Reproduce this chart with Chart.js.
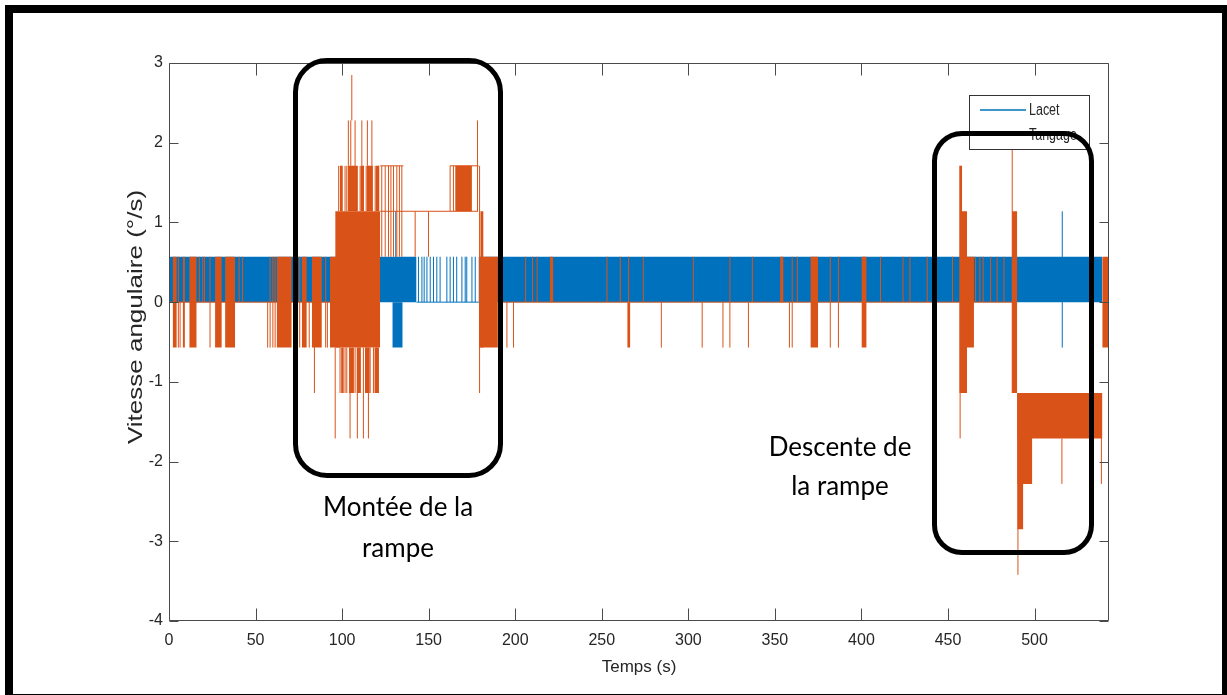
<!DOCTYPE html>
<html><head><meta charset="utf-8">
<script src="https://cdn.jsdelivr.net/npm/chart.js@4/dist/chart.umd.min.js"></script>
<style>
html,body{margin:0;padding:0;background:#fff;}
#wrap{position:relative;width:1227px;height:695px;overflow:hidden;background:#fff;}
#c{position:absolute;left:0;top:0;}
.bar{position:absolute;background:#000;}
.ring{position:absolute;border:5px solid #000;box-sizing:border-box;}
.note{position:absolute;font-family:Lato,'Open Sans',sans-serif;font-size:26px;color:#000;text-align:center;white-space:nowrap;}
</style></head><body>
<div id="wrap">
<canvas id="c" width="1227" height="695"></canvas>
<div class="bar" style="left:5px;top:5px;width:1222px;height:8px"></div>
<div class="bar" style="left:5px;top:5px;width:8px;height:690px"></div>
<div class="bar" style="left:1222px;top:5px;width:5px;height:690px"></div>
<div class="bar" style="left:5px;top:694px;width:1222px;height:1px"></div>
<div class="ring" style="left:293px;top:58px;width:210px;height:420px;border-radius:34px"></div>
<div class="ring" style="left:932px;top:131px;width:162px;height:424px;border-radius:30px"></div>
<div class="note" style="left:278px;top:486px;width:240px;line-height:41px">Montée de la<br>rampe</div>
<div class="note" style="left:720px;top:427px;width:240px;line-height:39px">Descente de<br>la rampe</div>
</div>
<script>
const xTicks = [0,50,100,150,200,250,300,350,400,450,500];
const yTicks = [-4,-3,-2,-1,0,1,2,3];
const seriesNames = ['Lacet','Tangage'];
const seriesColors = ['#0072BD','#D95319'];
const xTitle = 'Temps (s)';
const yTitle = 'Vitesse angulaire (°/s)';

// Lacet (blue): dense toggling bands [t0, t1, low, high]
const lacetBands = [
  [0,143,0,0.57],
  [129,135,-0.57,0],
  [178.8,539.2,0,0.57]
];
// Lacet: isolated strokes [t, low, high]
const lacetStrokes = [
  [131,0,1.14],
  [144.1,0,0.57],[146.1,0,0.57],[147.4,0,0.57],[149,0,0.57],[150.9,0,0.57],[152.8,0,0.57],
  [154.7,0,0.57],[156.6,0,0.57],[160.5,0,0.57],[162.4,0,0.57],[164.3,0,0.57],[166.2,0,0.57],
  [169.2,0,0.57],[171.1,0,0.57],[172,0,0.57],[175,0,0.57],[176.9,0,0.57],
  [516,-0.57,1.14]
];
// Lacet: level lines [t0, t1, value]
const lacetLevels = [[143,179,0]];

// Tangage (orange): dense toggling bands [t0, t1, low, high]
const tangageBands = [
  [2.1,4.5,-0.57,0.57],[7.9,9.2,-0.57,0.57],[11.7,16,-0.57,0.57],
  [26.6,30.5,-0.57,0.57],[32.4,38.2,-0.57,0.57],[62.2,70.9,-0.57,0.57],
  [76.7,79.6,-0.57,0.57],[82.5,88.3,-0.57,0.57],[93,98.8,-0.57,0.57],
  [96,122,-0.57,1.14],
  [98.6,100.4,1.14,1.71],[103.2,108.6,1.14,1.71],[110.6,112.6,1.14,1.71],[114.2,117.8,1.14,1.71],[119.4,121.6,1.14,1.71],
  [99.6,101,-1.14,-0.57],[104,106.8,-1.14,-0.57],[108.4,110.8,-1.14,-0.57],[113.2,116,-1.14,-0.57],[118.6,120.8,-1.14,-0.57],
  [165.3,175,1.14,1.71],
  [179.8,181.7,-0.57,1.14],[179,190,-0.57,0.57],
  [220,222,0,0.57],[264.7,266.5,-0.57,0],[353,355,0,0.57],
  [370.5,375,-0.57,0.57],[400,403,-0.57,0.57],
  [456.5,458.2,-1.14,1.71],[457.5,461,-1.14,1.14],[458.2,465,-0.57,0.57],
  [487,490,-1.14,1.14],
  [490,493.5,-2.85,-1.14],[490,498.7,-2.28,-1.14],[490,539.2,-1.71,-1.14],
  [539.1,543,-0.57,0.57]
];
// Tangage: isolated strokes [t, low, high]
const tangageStrokes = [
  [5.4,-0.57,0.57],[6.4,-0.57,0],[17.5,0,0.57],[19.5,0,0.57],[20.5,0,0.57],[23.7,-0.57,0.57],
  [40.5,0,0.57],[42.5,0,0.57],[57,-0.57,0],[58.4,-0.57,0.57],[60,-0.57,0.57],[61.3,-0.57,0.57],
  [73.5,-0.57,0.57],[75.5,-0.57,0.57],[81,-0.57,0],[84,-1.14,0],[90.5,-0.57,0.57],[91.5,-0.57,0],
  [96,-1.71,-0.57],[98.8,-1.14,-0.57],[99.8,-1.14,-0.57],[101.7,-1.14,-0.57],[102.7,-1.14,-0.57],
  [104.6,-1.71,-0.57],[106.2,-1.14,-0.57],[107.5,-1.14,-0.57],[108.8,-1.71,-0.57],[110.4,-1.14,-0.57],
  [112.3,-1.71,-0.57],[113.9,-1.14,-0.57],[115.2,-1.71,-0.57],[116.2,-1.14,-0.57],[118.1,-1.14,-0.57],
  [120,-1.14,-0.57],[121,-1.14,-0.57],
  [98,1.14,1.71],[99.8,1.14,1.71],[101.7,1.14,1.71],[102.7,1.14,1.71],[104.6,1.14,1.71],[106.2,1.14,1.71],
  [107.5,1.14,1.71],[108.8,1.14,1.71],[110.4,1.14,1.71],[112.3,1.14,1.71],[113.9,1.14,1.71],
  [115.2,1.14,1.71],[117.2,1.14,1.71],[119.1,1.14,1.71],[121,1.14,1.71],
  [103.6,1.71,2.28],[105,1.71,2.28],[107.5,1.71,2.28],[111.4,1.71,2.28],[114.6,1.71,2.28],[117.2,1.71,2.28],
  [105.6,2.28,2.85],
  [122.9,0.57,1.71],[124.9,0.57,1.71],[126.8,0.57,1.71],[128.2,0.57,1.71],[129.7,0.57,1.71],
  [131.6,0.57,1.71],[133.1,0.57,1.71],[134.5,0.57,1.71],
  [142.2,0.57,1.14],[149.9,0.57,1.14],[162.4,1.14,1.71],[164.3,1.14,1.71],
  [178.2,1.14,2.28],[179.4,-1.14,1.71],
  [195.2,-0.57,0],[199,-0.57,0],
  [206,0,0.57],[210,0,0.57],[212.7,0,0.57],[253,0,0.57],[260.7,0,0.57],[265.5,0,0.57],[274,0,0.57],
  [284.4,-0.57,0],[302.9,0,0.57],[308,-0.57,0],[320,-0.57,0],[324,-0.57,0.57],[334.7,-0.57,0],
  [337,0,0.57],[358.4,-0.57,0],[360,-0.57,0.57],[363,0,0.57],[382,-0.57,0.57],[386.7,-0.57,0.57],
  [411,0,0.57],[424,0,0.57],[428,0,0.57],[438,0,0.57],[452.6,0,0.57],
  [457,-1.71,1.71],
  [465.9,0,0.57],[468.4,0,0.57],[470.3,0,0.57],[474.6,0,0.57],[478.4,0,0.57],[482.3,0,0.57],
  [487.1,-1.14,2.28],[490.4,-3.42,-1.14],[515.8,-2.28,-1.71],[538.6,-2.28,-1.14]
];
// Tangage: level lines [t0, t1, value]
const tangageLevels = [
  [0,96,0],[122,178.5,1.14],[122,135.4,1.71],[162.4,178.8,1.71],[190,487,0]
];

function bandSets(bands, color, order) {
  return bands.map(b => ({
    label: '',
    data: [{x: b[0], y: b[3]}, {x: b[1], y: b[3]}],
    fill: {value: b[2]},
    backgroundColor: color,
    borderColor: 'rgba(0,0,0,0)',
    borderWidth: 1,
    pointRadius: 0,
    order: order
  }));
}
function strokeSet(name, strokes, levels, color, order) {
  const pts = [];
  strokes.forEach(s => { pts.push({x: s[0], y: s[1]}, {x: s[0], y: s[2]}, {x: s[0], y: null}); });
  levels.forEach(l => { pts.push({x: l[0], y: l[2]}, {x: l[1], y: l[2]}, {x: l[1], y: null}); });
  return {
    label: name, data: pts, fill: false, borderColor: color, backgroundColor: color,
    borderWidth: 1, pointRadius: 0, spanGaps: false, order: order
  };
}

const datasets = [
  strokeSet(seriesNames[1], tangageStrokes, tangageLevels, seriesColors[1], 0),
  ...bandSets(tangageBands, seriesColors[1], 1),
  strokeSet(seriesNames[0], lacetStrokes, lacetLevels, seriesColors[0], 2),
  ...bandSets(lacetBands, seriesColors[0], 3)
];

const SANS = "'Liberation Sans',Arial,sans-serif";
const AXC = '#262626';

const boxPlugin = {
  id: 'boxPlugin',
  afterDatasetsDraw(chart) {
    const {ctx, chartArea: a, scales: {x, y}} = chart;
    ctx.save();
    ctx.strokeStyle = '#4a4a4a';
    ctx.lineWidth = 1;
    const L = Math.round(a.left) + 0.5, R = Math.round(a.right) - 0.5;
    const T = Math.round(a.top) + 0.5, B = Math.round(a.bottom) - 0.5;
    ctx.beginPath();
    ctx.rect(L, T, R - L, B - T);
    xTicks.forEach(v => {
      const px = Math.round(x.getPixelForValue(v)) + 0.5;
      ctx.moveTo(px, B); ctx.lineTo(px, B - 12);
      ctx.moveTo(px, T); ctx.lineTo(px, T + 12);
    });
    yTicks.forEach(v => {
      const py = Math.round(y.getPixelForValue(v)) + 0.5;
      ctx.moveTo(L, py); ctx.lineTo(L + 9, py);
      ctx.moveTo(R, py); ctx.lineTo(R - 9, py);
    });
    ctx.stroke();
    // y-axis title (horizontally condensed like the reference)
    ctx.save();
    ctx.translate(137, 317);
    ctx.scale(0.75, 1);
    ctx.rotate(-Math.PI / 2);
    ctx.font = '26px ' + SANS;
    ctx.fillStyle = AXC;
    ctx.textAlign = 'center';
    ctx.textBaseline = 'middle';
    ctx.fillText(yTitle, 0, 0);
    ctx.restore();
    // legend
    const lx = 969.5, ly = 95.5, lw = 120, lh = 54;
    ctx.fillStyle = '#fff';
    ctx.fillRect(lx, ly, lw, lh);
    ctx.strokeStyle = '#333';
    ctx.strokeRect(lx, ly, lw, lh);
    seriesNames.forEach((n, i) => {
      const yy = 110 + i * 25;
      ctx.strokeStyle = seriesColors[i];
      ctx.lineWidth = 1.5;
      ctx.beginPath(); ctx.moveTo(980, yy); ctx.lineTo(1026, yy); ctx.stroke();
      ctx.save();
      ctx.translate(1029, yy + 1);
      ctx.scale(0.78, 1);
      ctx.font = '16px ' + SANS;
      ctx.textBaseline = 'middle';
      ctx.textAlign = 'left';
      ctx.fillStyle = AXC;
      ctx.fillText(n, 0, 0);
      ctx.restore();
    });
    ctx.restore();
  }
};

new Chart(document.getElementById('c'), {
  type: 'line',
  data: {datasets},
  options: {
    responsive: false,
    animation: false,
    devicePixelRatio: 1,
    layout: {padding: {left: 109, right: 118, top: 63, bottom: 0}},
    plugins: {legend: {display: false}, tooltip: {enabled: false}},
    elements: {line: {tension: 0}},
    scales: {
      x: {
        type: 'linear', min: 0, max: 543,
        afterBuildTicks: s => { s.ticks = xTicks.map(v => ({value: v})); },
        afterFit: s => { s.height = 74; },
        grid: {display: false, drawTicks: false},
        border: {display: false},
        ticks: {padding: 10, color: AXC, font: {family: SANS, size: 16}, maxRotation: 0, autoSkip: false},
        title: {display: true, text: xTitle, color: AXC, font: {family: SANS, size: 17}, padding: {top: 0, bottom: 17}}
      },
      y: {
        type: 'linear', min: -4, max: 3,
        afterBuildTicks: s => { s.ticks = yTicks.map(v => ({value: v})); },
        afterFit: s => { s.width = 60; },
        grid: {display: false, drawTicks: false},
        border: {display: false},
        ticks: {padding: 6, color: AXC, font: {family: SANS, size: 16}, autoSkip: false},
        title: {display: false}
      }
    }
  },
  plugins: [boxPlugin]
});
</script>
</body></html>
